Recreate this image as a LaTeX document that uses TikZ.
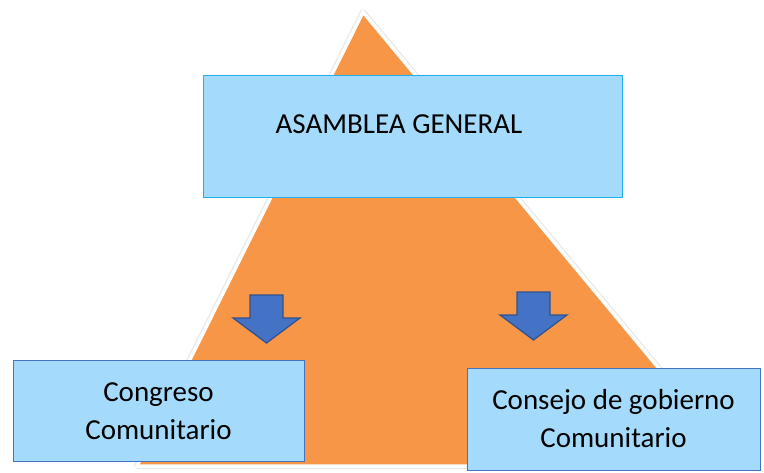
\documentclass[tikz,border=0pt]{standalone}
\usepackage{fontspec}
\setmainfont{Carlito}
\usepackage{tikz}

\definecolor{pyramid}{RGB}{247,150,70}
\definecolor{boxfill}{RGB}{164,218,252}
\definecolor{topline}{RGB}{30,176,240}
\definecolor{boxline}{RGB}{68,114,196}
\definecolor{arrowfill}{RGB}{68,114,196}
\definecolor{arrowline}{RGB}{47,82,143}

\begin{document}
\begin{tikzpicture}[
    x=1pt, y=-1pt,
    box/.style={rectangle, draw=boxline, line width=1pt, fill=boxfill,
      align=center, inner sep=0pt, font=\fontsize{29}{38}\selectfont},
    blockarrow/.style={draw=arrowline, line width=1.2pt, fill=arrowfill, line join=miter}
  ]
  \useasboundingbox (0,0) rectangle (764,472);

  % Pyramid in the background
  \coordinate (apex) at (363,12);
  \coordinate (baseL) at (137,466);
  \coordinate (baseR) at (740,466);
  \draw[gray!18, line width=6pt, line join=round] (apex) -- (baseL) -- (baseR) -- cycle;
  \draw[white, line width=3.5pt, fill=pyramid] (apex) -- (baseL) -- (baseR) -- cycle;

  % Top box
  \node[box, draw=topline, minimum width=419pt, minimum height=122pt, text depth=23pt]
    (asamblea) at (412.5,136) {ASAMBLEA GENERAL\hspace*{27pt}};

  % Lower boxes
  \node[box, minimum width=291pt, minimum height=101pt]
    (congreso) at (158.5,411) {Congreso\\Comunitario};
  \node[box, minimum width=293pt, minimum height=102pt]
    (consejo) at (613.5,419) {Consejo de gobierno\\Comunitario};

  % Block arrows
  \coordinate (arrL) at (266.5,295);
  \coordinate (arrR) at (533.5,292);
  \foreach \a in {arrL, arrR}
    \draw[blockarrow] (\a) ++(-16.5,0) -- ++(0,23) -- ++(-17,0) -- ++(33.5,25)
      -- ++(33.5,-25) -- ++(-17,0) -- ++(0,-23) -- cycle;
\end{tikzpicture}
\end{document}
